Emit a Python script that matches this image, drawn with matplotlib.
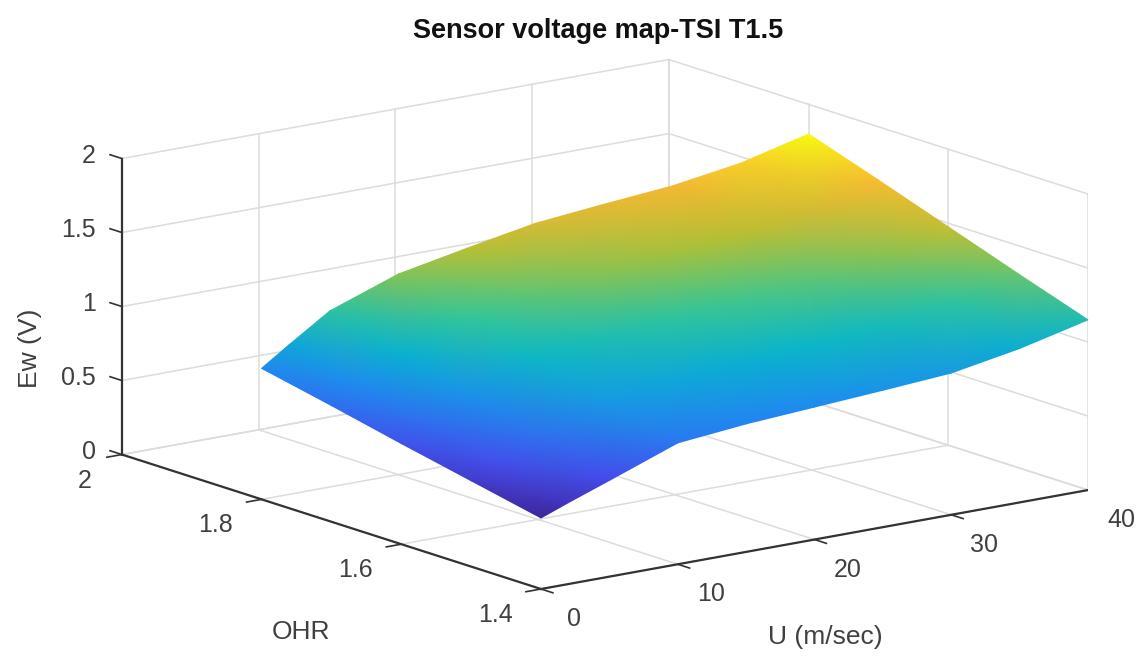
import numpy as np
import matplotlib
matplotlib.use('Agg')
import matplotlib.pyplot as plt
from matplotlib.colors import LinearSegmentedColormap
from mpl_toolkits.mplot3d import proj3d

plt.rcParams['font.family'] = ['Liberation Sans', 'DejaVu Sans']

# Data
u_vals = [0, 2, 5, 10, 15, 20, 25, 30, 35, 40]
ohr_vals = [1.4, 1.5, 1.6, 1.7, 1.8]
ew_14 = [0.48, 0.55, 0.65, 0.82, 0.865, 0.895, 0.925, 0.958, 1.04, 1.15]
ew_15 = [0.58, 0.665, 0.785, 0.955, 1.01, 1.05, 1.09, 1.12, 1.20, 1.31]
ew_16 = [0.68, 0.78, 0.92, 1.09, 1.155, 1.21, 1.25, 1.285, 1.36, 1.475]
ew_17 = [0.785, 0.895, 1.055, 1.22, 1.30, 1.37, 1.41, 1.45, 1.525, 1.64]
ew_18 = [0.885, 1.01, 1.19, 1.355, 1.445, 1.53, 1.575, 1.615, 1.685, 1.80]

u_ticks = [0, 10, 20, 30, 40]
ohr_ticks = [1.4, 1.6, 1.8, 2]
ew_ticks = [0, 0.5, 1, 1.5, 2]
u_labels = ['0', '10', '20', '30', '40']
ohr_labels = ['1.4', '1.6', '1.8', '2']
ew_labels = ['0', '0.5', '1', '1.5', '2']

# parula style colormap
parula = LinearSegmentedColormap.from_list('parula', [
    (0.00, (0.24, 0.15, 0.60)),
    (0.12, (0.28, 0.28, 0.92)),
    (0.30, (0.13, 0.53, 0.95)),
    (0.45, (0.03, 0.71, 0.80)),
    (0.57, (0.22, 0.78, 0.58)),
    (0.72, (0.70, 0.75, 0.20)),
    (0.87, (0.97, 0.72, 0.20)),
    (1.00, (0.97, 0.98, 0.07))])

W, H = 1146, 658
fig = plt.figure(figsize=(W / 100, H / 100), dpi=100)
ax = fig.add_axes([0, 0, 1, 1], projection='3d', proj_type='ortho')
ax.view_init(elev=13.94, azim=-126.9)
ax.set_xlim(0, 40)
ax.set_ylim(1.4, 2)
ax.set_zlim(0, 2)
ax.set_box_aspect((684, 698, 305))
ax.set_axis_off()


def to_px(x, y, z):
    # data -> picture pixels, y counted from the top
    x = np.asarray(x, float)
    xp, yp, _ = proj3d.proj_transform(x.ravel(), np.asarray(y, float).ravel(),
                                      np.asarray(z, float).ravel(), ax.get_proj())
    pts = ax.transData.transform(np.column_stack([xp, yp]))
    return pts[:, 0].reshape(x.shape), H - pts[:, 1].reshape(x.shape)


def place(size, left, bottom):
    ax.set_position([left / W, bottom / H, size / W, size / H])
    ax.apply_aspect()


# scale and shift the square axes so the box corners land where they should
place(H, 0, 0)
x_a, _ = to_px([0], [1.4], [0])
x_b, _ = to_px([40], [1.4], [0])
size = H * (1088 - 541) / (x_b[0] - x_a[0])
place(size, 0, 0)
x_a, y_a = to_px([0], [1.4], [0])
place(size, 541 - x_a[0], y_a[0] - 589)

grid_col = '#dcdcdc'
dark = '#333333'
gkw = dict(color=grid_col, lw=1.1)

# walls and floor grid
for z in ew_ticks:
    ax.plot([0, 40], [2, 2], [z, z], **gkw)
    ax.plot([40, 40], [1.4, 2], [z, z], **gkw)
for u in u_ticks:
    ax.plot([u, u], [2, 2], [0, 2], **gkw)
    ax.plot([u, u], [1.4, 2], [0, 0], **gkw)
for o in ohr_ticks:
    ax.plot([40, 40], [o, o], [0, 2], **gkw)
    ax.plot([0, 40], [o, o], [0, 0], **gkw)

# axis lines and ticks
akw = dict(color=dark, lw=1.6)
ax.plot([0, 40], [1.4, 1.4], [0, 0], **akw)
ax.plot([0, 0], [1.4, 2], [0, 0], **akw)
ax.plot([0, 0], [2, 2], [0, 2], **akw)
tkw = dict(color=dark, lw=1.2)
for u in u_ticks:
    ax.plot([u, u], [1.4, 1.383], [0, 0], **tkw)
for o in ohr_ticks:
    ax.plot([0, -1.1], [o, o], [0, 0], **tkw)
for z in ew_ticks:
    ax.plot([0, 0], [2, 2.017], [z, z], **tkw)

# overlay in picture pixels for the smooth surface and the labels
ov = fig.add_axes([0, 0, 1, 1])
ov.set_xlim(0, W)
ov.set_ylim(H, 0)
ov.axis('off')
ov.patch.set_alpha(0)

uu, oo = np.meshgrid(u_vals, ohr_vals)
ew = np.array([ew_14, ew_15, ew_16, ew_17, ew_18])
sx, sy = to_px(uu, oo, ew)
ov.pcolormesh(sx, sy, ew, shading='gouraud', cmap=parula,
              vmin=ew.min(), vmax=ew.max())

txt = '#404040'
fs = 18
for u, lab in zip(u_ticks, u_labels):
    px, py = to_px([u], [1.4], [0])
    ov.text(px[0] + 33, py[0] + 30, lab, fontsize=fs, color=txt, ha='center', va='center')
for o, lab in zip(ohr_ticks, ohr_labels):
    px, py = to_px([0], [o], [0])
    dx = -37 if lab == '2' else -46
    ov.text(px[0] + dx, py[0] + 26, lab, fontsize=fs, color=txt, ha='center', va='center')
for z, lab in zip(ew_ticks, ew_labels):
    px, py = to_px([0], [2], [z])
    ov.text(px[0] - 26, py[0] - 3, lab, fontsize=fs, color=txt, ha='right', va='center')

ov.text(30, 348, 'Ew (V)', fontsize=19, color=txt, rotation=90, ha='center', va='center')
ov.text(301, 632, 'OHR', fontsize=19, color=txt, ha='center', va='center')
ov.text(825, 637, 'U (m/sec)', fontsize=19, color=txt, ha='center', va='center')
ov.text(598, 31, 'Sensor voltage map-TSI T1.5', fontsize=19.5, fontweight='bold',
        color='#111111', ha='center', va='center')

fig.savefig('out.png', dpi=100)
